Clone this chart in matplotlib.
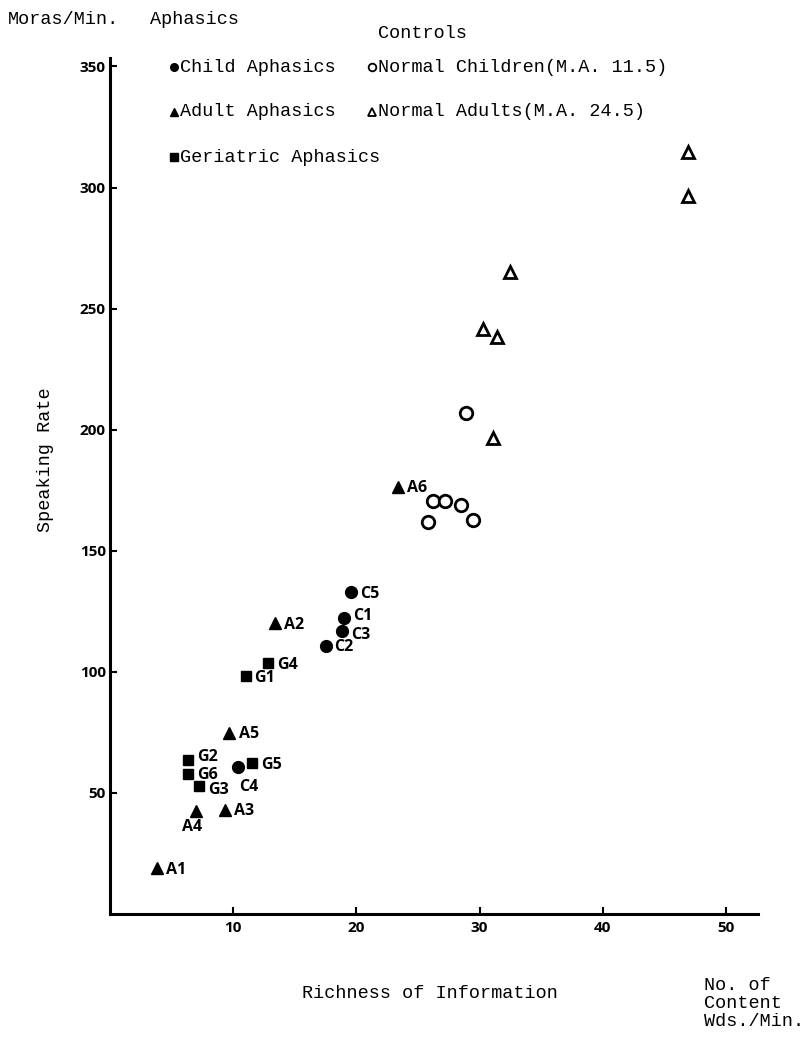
import matplotlib
matplotlib.use("Agg")
import matplotlib.pyplot as plt
from matplotlib.lines import Line2D

# ---------------- data ----------------
child_names = ["C1", "C2", "C3", "C4", "C5"]
child_x = [19.0, 17.5, 18.8, 10.4, 19.6]
child_y = [122.2, 110.7, 116.9, 60.6, 132.8]

adult_names = ["A1", "A2", "A3", "A4", "A5", "A6"]
adult_x = [3.8, 13.4, 9.3, 7.0, 9.7, 23.4]
adult_y = [18.9, 120.1, 43.0, 42.7, 74.9, 176.3]

geri_names = ["G1", "G2", "G3", "G4", "G5", "G6"]
geri_x = [11.0, 6.3, 7.2, 12.8, 11.5, 6.3]
geri_y = [98.1, 63.6, 53.0, 103.6, 62.3, 57.7]

nchild_x = [28.9, 26.2, 27.2, 28.5, 25.8, 29.5]
nchild_y = [207.1, 170.7, 170.7, 168.7, 162.0, 162.9]

nadult_x = [46.9, 46.9, 32.5, 30.3, 31.4, 31.1]
nadult_y = [314.6, 296.4, 265.0, 241.7, 238.3, 196.6]

x_ticks = [10, 20, 30, 40, 50]
y_ticks = [50, 100, 150, 200, 250, 300, 350]

# ---------------- style ----------------
W, H = 808, 1037
MONO = ["Liberation Mono", "DejaVu Sans Mono"]
SANS = ["Open Sans", "DejaVu Sans"]


def fx(px):
    return px / W


def fy(py):
    return 1 - py / H


fig = plt.figure(figsize=(W / 100, H / 100), dpi=100)
fig.patch.set_facecolor("white")
ax = fig.add_axes([fx(110), fy(914), (758 - 110) / W, (914 - 58) / H])
ax.set_xlim(0, 52.6)
ax.set_ylim(0, 353.5)

for s in ["top", "right"]:
    ax.spines[s].set_visible(False)
for s in ["left", "bottom"]:
    ax.spines[s].set_linewidth(2.2)
    ax.spines[s].set_color("black")

ax.set_xticks(x_ticks)
ax.set_yticks(y_ticks)
ax.tick_params(axis="both", direction="in", length=5, width=1.5, colors="black")
ax.tick_params(axis="y", pad=3)
ax.tick_params(axis="x", pad=5)
for lab in ax.get_xticklabels() + ax.get_yticklabels():
    lab.set_family(SANS)
    lab.set_fontweight("bold")
    lab.set_fontsize(11)

# ---------------- points ----------------
ax.plot(child_x, child_y, "o", ms=8.5, color="black", ls="none", clip_on=False)
ax.plot(adult_x, adult_y, "^", ms=8, color="black", ls="none", clip_on=False)
ax.plot(geri_x, geri_y, "s", ms=7, color="black", ls="none", clip_on=False)
ax.plot(nchild_x, nchild_y, "o", ms=9, mfc="white", mec="black", mew=2.0,
        ls="none", clip_on=False)
ax.plot(nadult_x, nadult_y, "^", ms=8, mfc="white", mec="black", mew=2.0,
        ls="none", clip_on=False)

special = {
    "A4": ((-3, -12), "center"),
    "C4": ((8, -14), "center"),
    "C1": ((6.5, 1.5), "left"),
    "C3": ((6.5, -3), "left"),
    "G2": ((6.5, 2), "left"),
    "G6": ((6.5, -0.5), "left"),
    "G3": ((6.5, -3), "left"),
}
for names, xs, ys in [(child_names, child_x, child_y),
                      (adult_names, adult_x, adult_y),
                      (geri_names, geri_x, geri_y)]:
    for n, x, y in zip(names, xs, ys):
        off, ha = special.get(n, ((6.5, -1), "left"))
        ax.annotate(n, (x, y), xytext=off, textcoords="offset points",
                    ha=ha, va="center", fontsize=11.5, fontweight="bold",
                    family=SANS)

# ---------------- texts ----------------
tkw = dict(family=MONO, fontsize=13.3, color="black")
fig.text(fx(8), fy(20), "Moras/Min.", ha="left", va="center", **tkw)
fig.text(fx(150), fy(20), "Aphasics", ha="left", va="center", **tkw)
fig.text(fx(378), fy(33), "Controls", ha="left", va="center", **tkw)

legend_rows = [
    (67, "o", "Child Aphasics", "o", "Normal Children(M.A. 11.5)"),
    (112, "^", "Adult Aphasics", "^", "Normal Adults(M.A. 24.5)"),
    (157, "s", "Geriatric Aphasics", None, None),
]
for py, m1, t1, m2, t2 in legend_rows:
    fig.add_artist(Line2D([fx(174)], [fy(py)], marker=m1, ms=5.5, color="black",
                          ls="none", transform=fig.transFigure))
    fig.text(fx(180), fy(py), t1, ha="left", va="center", **tkw)
    if m2:
        fig.add_artist(Line2D([fx(372)], [fy(py)], marker=m2, ms=5.5,
                              mfc="white", mec="black", mew=1.3, ls="none",
                              transform=fig.transFigure))
        fig.text(fx(378), fy(py), t2, ha="left", va="center", **tkw)

fig.text(fx(45), fy(460), "Speaking Rate", rotation=90, ha="center",
         va="center", **tkw)
fig.text(fx(430), fy(993), "Richness of Information", ha="center",
         va="center", **tkw)
for py, t in [(985, "No. of"), (1003, "Content"), (1022, "Wds./Min.")]:
    fig.text(fx(704), fy(py), t, ha="left", va="center", **tkw)

fig.savefig("out.png", dpi=100, facecolor="white")
